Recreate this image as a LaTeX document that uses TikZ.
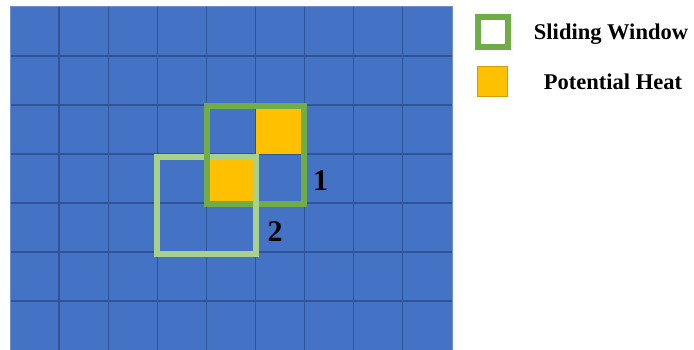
\documentclass[tikz,border=0pt]{standalone}
\usepackage{fontspec}
\setmainfont{Liberation Serif}
\usetikzlibrary{positioning}
\definecolor{cellblue}{HTML}{4472C4}
\definecolor{gridblue}{HTML}{2F5597}
\definecolor{gridedge}{HTML}{6F8FCB}
\definecolor{windark}{HTML}{70AD47}
\definecolor{winlight}{HTML}{A9D18E}
\definecolor{heat}{HTML}{FFC000}
\definecolor{heatedge}{HTML}{D09E00}

\begin{document}
\begin{tikzpicture}[x=1pt,y=-1pt,
    window/.style={line width=6pt},
    winlabel/.style={font=\bfseries\fontsize{30}{32}\selectfont, anchor=base, inner sep=0pt},
    legendtext/.style={font=\bfseries\fontsize{22.5}{26}\selectfont, anchor=base, inner sep=0pt}]
    \useasboundingbox (0,0) rectangle (694,350);

    % 9 x 7 grid, cells 49.1 wide, 49 high
    \fill[cellblue] (10,7) rectangle (452,350);
    \foreach \i in {1,...,8}
        \draw[gridblue, line width=1.3pt] ({10+\i*49.1},7) -- ({10+\i*49.1},350);
    \foreach \j in {1,...,6}
        \draw[gridblue, line width=1.3pt] (10,{7+\j*49}) -- (452,{7+\j*49});
    \draw[gridedge, line width=1pt] (10,7) rectangle (452,350);

    % potential heat cells
    \fill[heat] (255.5,105) rectangle (304.6,154);
    \fill[heat] (206.4,154) rectangle (255.5,203);

    % window 2 (moved), then window 1
    \coordinate (w2a) at (157.3,156.8);
    \coordinate (w2b) at (255.5,254.2);
    \draw[window, winlight] (w2a) rectangle (w2b);
    \draw[window, windark] (206.6,106) rectangle (304.4,203.8);
    % right side of window 2 lies over window 1
    \draw[window, winlight] (w2b |- w2a) -- (w2b);

    \node[winlabel] (one) at (320.5,190) {1};
    \node[winlabel] (two) at (275,241) {2};

    % legend
    \node[draw=windark, line width=6pt, fill=white, minimum size=29.7pt, inner sep=0pt] (legwin) at (492.8,32.2) {};
    \node[draw=heatedge, line width=1.2pt, fill=heat, minimum size=30pt, inner sep=0pt] (legheat) at (492.8,81.2) {};
    \node[legendtext] (legwintext) at (611,40) {Sliding Window};
    \node[legendtext] (legheattext) at (613,89.3) {Potential Heat};

\end{tikzpicture}
\end{document}
